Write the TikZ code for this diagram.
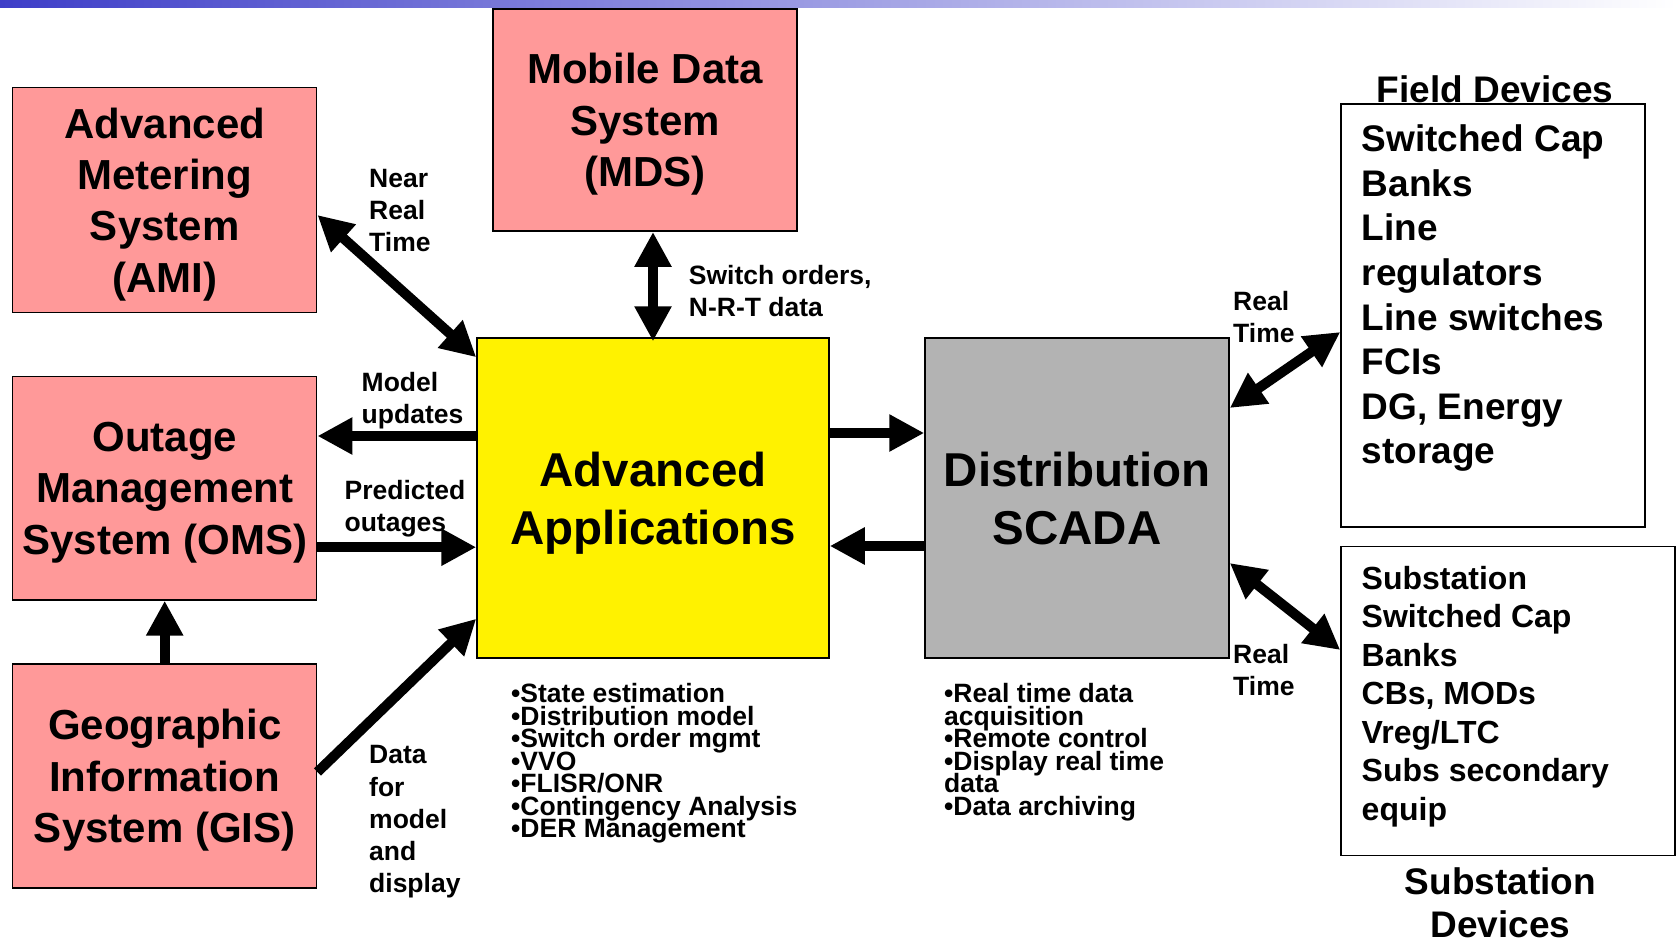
\documentclass[tikz,border=0pt]{standalone}
\usepackage{fontspec}
\setmainfont{Liberation Sans}
\usetikzlibrary{arrows.meta}
\definecolor{boxpink}{RGB}{255,153,153}
\definecolor{boxgray}{RGB}{179,179,179}
\definecolor{barblue}{RGB}{62,62,200}
\newcommand\mytightlines{\lineskiplimit-100pt\relax\lineskip0pt\relax}
\tikzset{
  fbox/.style={draw=black, line width=1.5pt, inner sep=0pt, align=center, text depth=0pt},
  pinkbox/.style={fbox, fill=boxpink, minimum width=304pt, font=\bfseries\fontsize{42}{51.3}\selectfont},
  bigbox/.style={fbox, minimum height=320pt, font=\bfseries\fontsize{47.5}{57.8}\selectfont},
  whitebox/.style={fbox, fill=white},
  lbl/.style={anchor=north west, inner sep=0pt, align=left, font=\bfseries\fontsize{26.5}{32.1}\selectfont},
  blist/.style={anchor=north west, inner sep=0pt, align=left, font={\bfseries\fontsize{26.5}{22.5}\selectfont\mytightlines}},
  devtxt/.style={anchor=north west, inner sep=0pt, align=left, font=\bfseries\fontsize{37}{44.6}\selectfont},
  subtxt/.style={anchor=north west, inner sep=0pt, align=left, font=\bfseries\fontsize{32}{38.5}\selectfont},
  devtitle/.style={inner sep=0pt, align=center, font=\bfseries\fontsize{37}{43}\selectfont},
  arr/.style={line width=10pt, -{Triangle[length=35pt,width=35pt]}},
  dbl/.style={line width=10pt, {Triangle[length=35pt,width=35pt]}-{Triangle[length=35pt,width=35pt]}}
}
\begin{document}
\begin{tikzpicture}[x=1pt,y=-1pt]
\useasboundingbox (0,0) rectangle (1677,943);
\shade[left color=barblue, right color=white] (0,0) rectangle (1677,7);

% boxes
\node[pinkbox, minimum height=224.6pt] (ami) at (164.7,200) {Advanced\\Metering\\System\\(AMI)};
\node[pinkbox, minimum height=222.4pt] (mds) at (645,120) {Mobile Data\\System\\(MDS)};
\node[pinkbox, minimum height=223.5pt] (oms) at (164.7,488.2) {Outage\\Management\\System (OMS)};
\node[pinkbox, minimum height=224pt] (gis) at (164.7,776) {Geographic\\Information\\System (GIS)};
\node[bigbox, fill=yellow, minimum width=352pt] (aa) at (653,498) {Advanced\\Applications};
\node[bigbox, fill=boxgray, minimum width=304pt] (scada) at (1077,498) {Distribution\\SCADA};
\node[whitebox, minimum width=304pt, minimum height=423pt] (field) at (1493,315.5) {};
\node[whitebox, minimum width=334pt, minimum height=309pt] (sub) at (1508,701) {};

% box contents and titles
\node[devtitle] (fieldtitle) at (1495,89) {Field Devices};
\node[devtxt] (fieldtxt) at (1361.5,124.7) {Switched Cap\\Banks\\Line\\regulators\\Line switches\\FCIs\\DG, Energy\\storage};
\node[subtxt] (subtxt) at (1361.5,566) {Substation\\Switched Cap\\Banks\\CBs, MODs\\Vreg/LTC\\Subs secondary\\equip};
\node[devtitle] (subtitle) at (1500.5,903) {Substation\\Devices};

% labels
\node[lbl] (lnrt) at (369,169) {Near\\Real\\Time};
\node[lbl] (lsw) at (688.7,265.4) {Switch orders,\\N-R-T data};
\node[lbl] (lmu) at (361.5,372.3) {Model\\updates};
\node[lbl] (lpo) at (344.4,480.3) {Predicted\\outages};
\node[lbl] (ldata) at (369,745.5) {Data\\for\\model\\and\\display};
\node[lbl] (lrt1) at (1233,291) {Real\\Time};
\node[lbl] (lrt2) at (1233,644) {Real\\Time};

% bullet lists
\node[blist] (aalist) at (511,683.5) {•State estimation\\•Distribution model\\•Switch order mgmt\\•VVO\\•FLISR/ONR\\•Contingency Analysis\\•DER Management};
\node[blist] (scadalist) at (944,683.5) {•Real time data\\acquisition\\•Remote control\\•Display real time\\data\\•Data archiving};

% connector end points
\coordinate (amiE) at ([yshift=-15pt]ami.east);
\coordinate (aaNW) at ([yshift=-20pt]aa.north west);
\coordinate (aaN) at ([yshift=-4pt]aa.north);
\coordinate (muS) at ([yshift=62pt]aa.west);
\coordinate (poS) at ([yshift=-59pt]oms.east);
\coordinate (gisE) at ([yshift=4pt]gis.east);
\coordinate (aaSW) at ([yshift=40pt]aa.south west);
\coordinate (toS) at ([yshift=65pt]aa.east);
\coordinate (frS) at ([yshift=-48pt]scada.west);
\coordinate (scE1) at ([yshift=90pt]scada.east);
\coordinate (fiW) at ([yshift=-16.5pt]field.west);
\coordinate (scE2) at ([yshift=-65pt]scada.east);
\coordinate (suW) at ([yshift=51pt]sub.west);

% connectors
\draw[dbl] (aa.north |- mds.south) -- (aaN);
\draw[dbl] (amiE) -- (aaNW);
\draw[arr] (muS) -- (muS -| oms.east);
\draw[arr] (poS) -- (poS -| aa.west);
\draw[arr] (gis.north) -- (oms.south);
\draw[arr] (gisE) -- (aaSW);
\draw[arr] (toS) -- (toS -| scada.west);
\draw[arr] (frS) -- (frS -| aa.east);
\draw[dbl] (scE1) -- (fiW);
\draw[dbl] (scE2) -- (suW);
\end{tikzpicture}
\end{document}
